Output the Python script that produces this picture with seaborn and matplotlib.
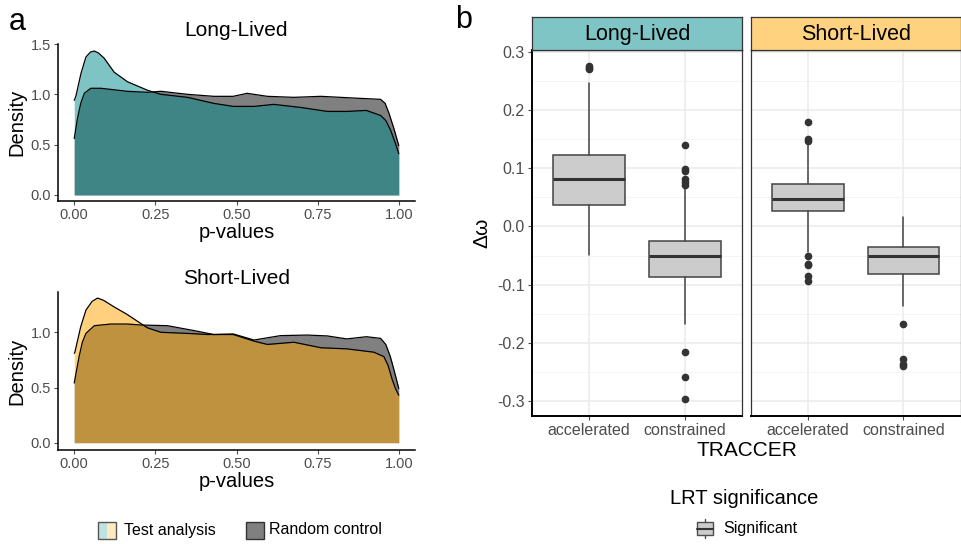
import matplotlib
matplotlib.use("Agg")
import matplotlib.pyplot as plt
import numpy as np
import pandas as pd
import seaborn as sns
from matplotlib.patches import Rectangle

sns.set_theme(style="white")
plt.rcParams["font.family"] = ["Liberation Sans", "DejaVu Sans"]
plt.rcParams["text.color"] = "black"
plt.rcParams["axes.labelcolor"] = "black"

# ---- panel a: p-value densities ----
long_test_x = [0.0, 0.005, 0.021, 0.036, 0.05, 0.062, 0.075, 0.092, 0.123, 0.164, 0.226, 0.267,
               0.349, 0.43, 0.49, 0.554, 0.615, 0.697, 0.78, 0.84, 0.9, 0.944, 0.96, 0.974,
               0.99, 1.0]
long_test_y = [0.94, 0.98, 1.21, 1.37, 1.42, 1.43, 1.41, 1.36, 1.22, 1.125, 1.04, 1.0,
               0.97, 0.91, 0.88, 0.88, 0.90, 0.87, 0.83, 0.83, 0.84, 0.79, 0.74, 0.65,
               0.51, 0.41]
long_rand_x = [0.0, 0.01, 0.02, 0.031, 0.051, 0.082, 0.164, 0.226, 0.267, 0.349, 0.43, 0.49,
               0.533, 0.595, 0.677, 0.76, 0.82, 0.88, 0.944, 0.958, 0.97, 0.985, 1.0]
long_rand_y = [0.56, 0.76, 0.91, 1.01, 1.06, 1.06, 1.03, 1.02, 1.03, 1.0, 0.98, 0.98,
               1.01, 0.98, 0.97, 0.98, 0.97, 0.96, 0.95, 0.91, 0.81, 0.66, 0.49]
short_test_x = [0.0, 0.002, 0.02, 0.036, 0.055, 0.072, 0.09, 0.123, 0.164, 0.205, 0.226, 0.267,
                0.349, 0.41, 0.49, 0.554, 0.595, 0.677, 0.76, 0.84, 0.923, 0.954, 0.967,
                0.98, 0.99, 1.0]
short_test_y = [0.81, 0.82, 1.05, 1.20, 1.28, 1.31, 1.29, 1.23, 1.16, 1.08, 1.04, 1.0,
                0.99, 0.98, 0.98, 0.92, 0.89, 0.91, 0.86, 0.85, 0.82, 0.78, 0.70,
                0.57, 0.49, 0.43]
short_rand_x = [0.0, 0.015, 0.025, 0.036, 0.062, 0.113, 0.164, 0.205, 0.287, 0.37, 0.43, 0.49,
                0.554, 0.636, 0.718, 0.78, 0.84, 0.9, 0.944, 0.96, 0.974, 0.987, 1.0]
short_rand_y = [0.54, 0.78, 0.91, 0.99, 1.06, 1.075, 1.075, 1.066, 1.06, 1.015, 0.98, 0.985,
                0.93, 0.97, 0.975, 0.967, 0.94, 0.96, 0.945, 0.89, 0.78, 0.64, 0.49]

# ---- panel b: box statistics of delta omega ----
groups = ["Long-Lived", "Short-Lived"]
traccer = ["accelerated", "constrained"]
box_q1 = {"Long-Lived": [0.036, -0.0868], "Short-Lived": [0.0257, -0.0823]}
box_med = {"Long-Lived": [0.0813, -0.0503], "Short-Lived": [0.047, -0.0515]}
box_q3 = {"Long-Lived": [0.123, -0.0257], "Short-Lived": [0.0727, -0.036]}
box_lo = {"Long-Lived": [-0.0486, -0.167], "Short-Lived": [-0.044, -0.137]}
box_hi = {"Long-Lived": [0.247, 0.068], "Short-Lived": [0.142, 0.017]}
box_out = {
    "Long-Lived": [[0.275, 0.272, 0.270],
                   [0.14, 0.099, 0.095, 0.082, 0.077, 0.0715, -0.215, -0.258, -0.296]],
    "Short-Lived": [[0.18, 0.15, 0.147, -0.0503, -0.064, -0.066, -0.0858, -0.0937],
                    [-0.168, -0.227, -0.237, -0.239]],
}

teal = "#008B8B"
orange = "#FFA500"
grey = "#808080"
tick_col = "#4d4d4d"

W, H = 961, 544
fig = plt.figure(figsize=(W / 100, H / 100), dpi=100)


def ax_px(left, top, right, bottom):
    return fig.add_axes([left / W, 1 - bottom / H, (right - left) / W, (bottom - top) / H])


def density_panel(ax, tx, ty, rx, ry, col, title, ylim, yticks):
    rand = pd.DataFrame({"x": rx, "y": ry})
    test = pd.DataFrame({"x": tx, "y": ty})
    ax.fill_between(rand["x"], rand["y"], color=grey, lw=0)
    sns.lineplot(data=rand, x="x", y="y", ax=ax, color="black", lw=0.9,
                 solid_joinstyle="round")
    ax.fill_between(test["x"], test["y"], color=col, alpha=0.5, lw=0)
    sns.lineplot(data=test, x="x", y="y", ax=ax, color="black", lw=0.9,
                 solid_joinstyle="round")
    ax.set_xlim(-0.05, 1.05)
    ax.set_ylim(*ylim)
    ax.set_xticks([0, 0.25, 0.5, 0.75, 1.0])
    ax.set_xticklabels(["0.00", "0.25", "0.50", "0.75", "1.00"])
    ax.set_yticks(yticks)
    ax.set_yticklabels([f"{v:.1f}" for v in yticks])
    ax.tick_params(labelsize=10.5, colors=tick_col, length=3, width=0.8,
                   bottom=True, left=True, pad=2)
    for s in ["top", "right"]:
        ax.spines[s].set_visible(False)
    for s in ["left", "bottom"]:
        ax.spines[s].set_color("black")
        ax.spines[s].set_linewidth(1.1)
    ax.set_xlabel("p-values", fontsize=14.5, labelpad=1)
    ax.set_ylabel("Density", fontsize=14.5, labelpad=3)
    ax.set_title(title, fontsize=15, pad=6)
    ax.set_facecolor("white")


ax1 = ax_px(58, 44, 415, 201)
density_panel(ax1, long_test_x, long_test_y, long_rand_x, long_rand_y, teal,
              "Long-Lived", (-0.06, 1.5), [0.0, 0.5, 1.0, 1.5])
ax2 = ax_px(58, 292, 415, 450)
density_panel(ax2, short_test_x, short_test_y, short_rand_x, short_rand_y, orange,
              "Short-Lived", (-0.066, 1.365), [0.0, 0.5, 1.0])

# legend for panel a
fig.patches.append(Rectangle((98 / W, 1 - 539 / H), 9 / W, 17 / H, transform=fig.transFigure,
                             facecolor="#bfe2e2", edgecolor="none"))
fig.patches.append(Rectangle((107 / W, 1 - 539 / H), 9 / W, 17 / H, transform=fig.transFigure,
                             facecolor="#ffe9bf", edgecolor="none"))
fig.patches.append(Rectangle((98 / W, 1 - 539 / H), 18 / W, 17 / H, transform=fig.transFigure,
                             facecolor="none", edgecolor="#555555", lw=1))
fig.text(124 / W, 1 - 530 / H, "Test analysis", fontsize=11.5, va="center", ha="left")
fig.patches.append(Rectangle((246 / W, 1 - 539 / H), 18 / W, 17 / H, transform=fig.transFigure,
                             facecolor=grey, edgecolor="#333333", lw=1))
fig.text(269 / W, 1 - 530 / H, "Random control", fontsize=11.5, va="center", ha="left")

# ---- panel b ----
panel_px = {"Long-Lived": (531.7, 742.3), "Short-Lived": (750.7, 960.5)}
strip_col = {"Long-Lived": "#7fc5c5", "Short-Lived": "#ffd27f"}
for gi, g in enumerate(groups):
    x0, x1 = panel_px[g]
    ax = ax_px(x0, 50, x1, 415.7)
    stats = []
    for i, t in enumerate(traccer):
        stats.append(dict(label=t, q1=box_q1[g][i], med=box_med[g][i], q3=box_q3[g][i],
                          whislo=box_lo[g][i], whishi=box_hi[g][i], fliers=box_out[g][i]))
    ax.bxp(stats, positions=[1, 2], widths=0.75, patch_artist=True, showcaps=False,
           boxprops=dict(facecolor="#cccccc", edgecolor="#444444", lw=1.1),
           medianprops=dict(color="#333333", lw=2.2),
           whiskerprops=dict(color="#444444", lw=1.1),
           flierprops=dict(marker="o", markerfacecolor="#333333", markeredgecolor="#333333",
                           markersize=4.5))
    ax.set_xlim(0.4, 2.6)
    ax.set_ylim(-0.325, 0.303)
    yt = np.round(np.arange(-0.3, 0.31, 0.1), 1)
    ax.set_yticks(yt)
    ax.set_yticks(np.round(np.arange(-0.25, 0.3, 0.1), 2), minor=True)
    ax.set_xticks([1, 2])
    ax.set_xticklabels(traccer)
    ax.grid(True, which="major", color="#ebebeb", lw=1.1)
    ax.grid(True, which="minor", axis="y", color="#f2f2f2", lw=0.6)
    ax.set_axisbelow(True)
    ax.tick_params(axis="both", which="major", labelsize=11.5, colors=tick_col,
                   length=3, width=0.8, bottom=True, left=(gi == 0), pad=2)
    ax.tick_params(which="minor", length=0)
    if gi == 0:
        ax.set_yticklabels([f"{v:.1f}" for v in yt])
    else:
        ax.set_yticklabels([])
    for s in ["top", "right", "left"]:
        ax.spines[s].set_color("#333333")
        ax.spines[s].set_linewidth(0.9)
    ax.spines["bottom"].set_color("black")
    ax.spines["bottom"].set_linewidth(1.4)
    if gi == 0:
        ax.spines["left"].set_color("black")
        ax.spines["left"].set_linewidth(1.4)
    ax.set_facecolor("white")

    sax = ax_px(x0, 16.7, x1, 50)
    sax.set_facecolor(strip_col[g])
    sax.set_xticks([])
    sax.set_yticks([])
    for s in sax.spines.values():
        s.set_color("#333333")
        s.set_linewidth(0.9)
    sax.text(0.5, 0.47, g, transform=sax.transAxes, ha="center", va="center", fontsize=15.5)

fig.text(747 / W, 1 - 451 / H, "TRACCER", fontsize=15, ha="center", va="center")
fig.text(482 / W, 1 - 233 / H, "Δω", fontsize=15, ha="center", va="center", rotation=90)
fig.text(744 / W, 1 - 499 / H, "LRT significance", fontsize=14.5, ha="center", va="center")

# legend key for the box
fig.patches.append(Rectangle((697 / W, 1 - 535 / H), 16 / W, 13 / H, transform=fig.transFigure,
                             facecolor="#cccccc", edgecolor="#4d4d4d", lw=1))
fig.lines.append(plt.Line2D([697 / W, 713 / W], [1 - 528.5 / H, 1 - 528.5 / H],
                            transform=fig.transFigure, color="#333333", lw=1.5))
fig.lines.append(plt.Line2D([705 / W, 705 / W], [1 - 522 / H, 1 - 519 / H],
                            transform=fig.transFigure, color="#4d4d4d", lw=1))
fig.lines.append(plt.Line2D([705 / W, 705 / W], [1 - 535 / H, 1 - 538 / H],
                            transform=fig.transFigure, color="#4d4d4d", lw=1))
fig.text(723 / W, 1 - 529 / H, "Significant", fontsize=11.5, va="center", ha="left")

fig.text(17 / W, 1 - 22 / H, "a", fontsize=22, ha="center", va="center")
fig.text(464 / W, 1 - 20 / H, "b", fontsize=22, ha="center", va="center")

fig.savefig("out.png", dpi=100, facecolor="white")
